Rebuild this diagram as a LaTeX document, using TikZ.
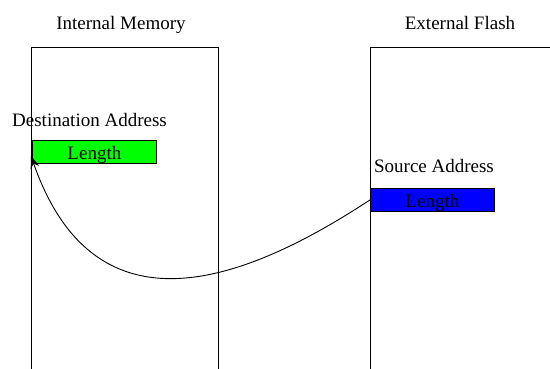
\documentclass[tikz,border=0pt]{standalone}
\usepackage{fontspec}
\setmainfont{Liberation Serif}
\usetikzlibrary{arrows.meta}
\begin{document}
\begin{tikzpicture}[x=1pt,y=-1pt,
  lbl/.style={anchor=base,inner sep=0pt,font=\fontsize{19}{21}\selectfont},
  memline/.style={draw=black,line width=1pt},
  lenbox/.style={draw=black,line width=0.8pt,minimum width=124pt,minimum height=23pt,inner sep=0pt,
    text height=15pt,text depth=0pt,font=\fontsize{19}{21}\selectfont,anchor=north west},
  conn/.style={draw=black,line width=0.9pt,-{Stealth[length=12pt,width=9pt]}}]
\useasboundingbox (0,0) rectangle (550,369);
\begin{scope}
\clip (0,0) rectangle (550,369);
\coordinate (imbl) at (31,400);
\coordinate (imtl) at (31,48);
\coordinate (imtr) at (218,48);
\coordinate (imbr) at (218,400);
\draw[memline] (imbl) -- (imtl) -- (imtr) -- (imbr);
\coordinate (efbl) at (370,400);
\coordinate (eftl) at (370,48);
\coordinate (eftr) at (600,48);
\draw[memline] (efbl) -- (eftl) -- (eftr);
\end{scope}
\node[lbl] (imtitle) at (121,30) {Internal Memory};
\node[lbl] (eftitle) at (460,30) {External Flash};
\node[lbl] (dstlbl) at (89.5,127) {Destination Address};
\node[lbl] (srclbl) at (434,173) {Source Address};
\node[lenbox,fill={rgb,255:red,0;green,255;blue,0}] (dst) at (32,140) {Length};
\node[lenbox,fill={rgb,255:red,0;green,0;blue,255}] (src) at (370,188) {Length};
\coordinate (tip) at (31,156);
\draw[conn] (src.west) .. controls (230,292) and (92,330) .. (tip);
\end{tikzpicture}
\end{document}
